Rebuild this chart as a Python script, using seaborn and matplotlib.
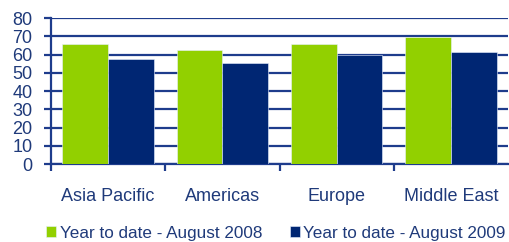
import pandas as pd
import matplotlib.pyplot as plt
import seaborn as sns

regions = ['Asia Pacific', 'Americas', 'Europe', 'Middle East']
series = ['Year to date - August 2008', 'Year to date - August 2009']
ytd_2008 = [65.5, 62.3, 65.5, 69.4]
ytd_2009 = [57.5, 55.5, 60.0, 61.3]

df = pd.DataFrame({
    'region': regions * 2,
    'period': [series[0]] * 4 + [series[1]] * 4,
    'value': ytd_2008 + ytd_2009,
})

green = '#92D000'
navy = '#002673'
text_col = '#1F3A7A'
grid_col = '#1E3C8C'

sns.set_style('white')
plt.rcParams['font.family'] = ['Liberation Sans', 'DejaVu Sans']

fig = plt.figure(figsize=(5.09, 2.42), dpi=100)
ax = fig.add_axes([0.1002, 0.3223, 0.898, 0.6033])

sns.barplot(data=df, x='region', y='value', hue='period', order=regions,
            hue_order=series, palette=[green, navy], saturation=1,
            width=0.8, edgecolor='#E8F0FF', linewidth=0.4, ax=ax, zorder=3)

ax.set_ylim(0, 80)
ax.set_xlim(-0.5, 3.5)
ax.set_yticks(range(0, 81, 10))
ax.yaxis.grid(True, color=grid_col, linewidth=1.6, zorder=0)
ax.set_axisbelow(True)
for s in ['top', 'right']:
    ax.spines[s].set_visible(False)
for s in ['left', 'bottom']:
    ax.spines[s].set_color(grid_col)
    ax.spines[s].set_linewidth(1.6)

ax.set_xticks([-0.5, 0.5, 1.5, 2.5], minor=True)
ax.tick_params(axis='x', which='minor', length=5, width=1.6, color=grid_col, direction='out', bottom=True)
ax.tick_params(axis='x', which='major', length=0, pad=17, labelsize=13, labelcolor=text_col)
ax.tick_params(axis='y', length=5, width=1.6, color=grid_col, direction='out', left=True,
               pad=8.5, labelsize=13, labelcolor=text_col)
ax.set_xlabel('')
ax.set_ylabel('')

handles, labels = ax.get_legend_handles_labels()
ax.legend_.remove()
fig.legend(handles, labels, loc='center', bbox_to_anchor=(0.542, 0.037), ncol=2,
           frameon=False, fontsize=12.3, labelcolor=text_col, handlelength=0.6,
           handleheight=0.6, handletextpad=0.2, columnspacing=1.6, borderpad=0)

fig.savefig('out.png', dpi=100)
